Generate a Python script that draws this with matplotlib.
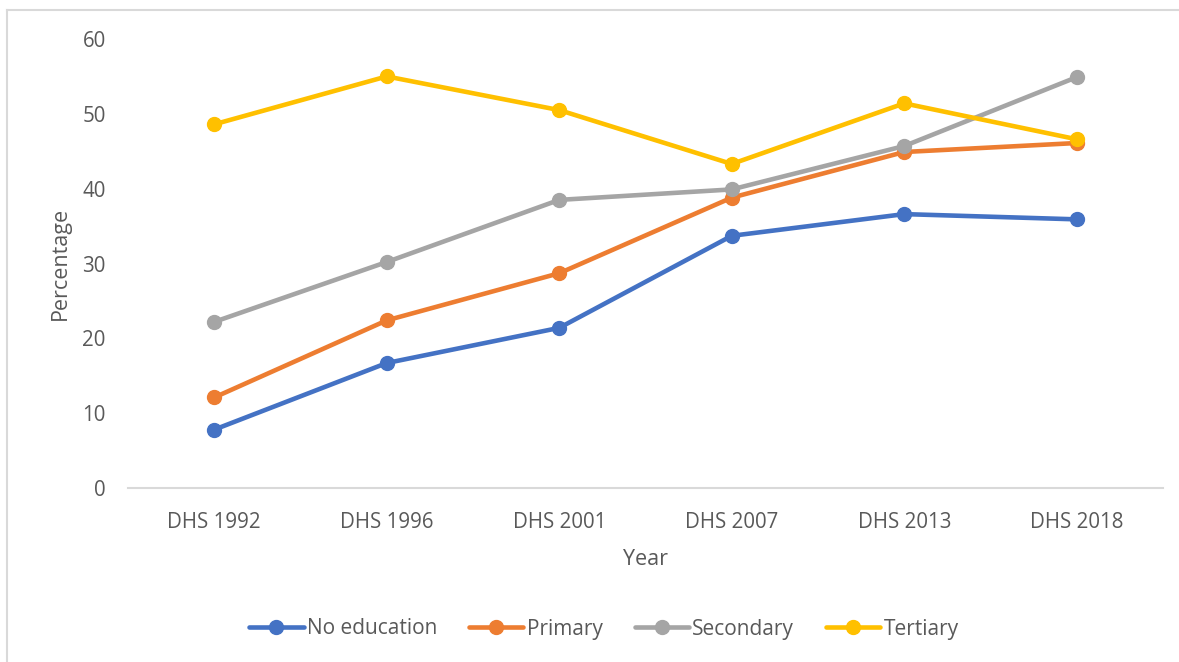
import matplotlib
matplotlib.use("Agg")
import matplotlib.pyplot as plt
from matplotlib.lines import Line2D

# Survey rounds and percentages by education level
years = ["DHS 1992", "DHS 1996", "DHS 2001", "DHS 2007", "DHS 2013", "DHS 2018"]
no_education = [7.8, 16.7, 21.4, 33.7, 36.6, 35.9]
primary = [12.1, 22.4, 28.7, 38.8, 44.9, 46.1]
secondary = [22.2, 30.2, 38.5, 39.9, 45.7, 54.9]
tertiary = [48.6, 55.0, 50.5, 43.3, 51.4, 46.6]

series = [
    ("No education", no_education, "#4472C4"),
    ("Primary", primary, "#ED7D31"),
    ("Secondary", secondary, "#A5A5A5"),
    ("Tertiary", tertiary, "#FFC000"),
]

text_color = "#595959"
plt.rcParams["font.family"] = ["Open Sans", "DejaVu Sans"]

W, H = 1179, 662
fig = plt.figure(figsize=(W / 100, H / 100), dpi=100)

# Chart-area frame edges (top and left)
frame_kw = dict(transform=fig.transFigure, color="#D9D9D9", linewidth=1.5)
fig.lines.append(Line2D([7.5 / W, 1.0], [1 - 10 / H, 1 - 10 / H], **frame_kw))
fig.lines.append(Line2D([7.5 / W, 7.5 / W], [0.0, 1 - 10 / H], **frame_kw))

ax = fig.add_axes([128 / W, 1 - 488 / H, 1035 / W, 449 / H])

x = list(range(len(years)))
for name, vals, color in series:
    ax.plot(x, vals, color=color, linewidth=3.3, marker="o", markersize=10,
            label=name, solid_capstyle="round")

ax.set_xlim(-0.5, len(years) - 0.5)
ax.set_ylim(0, 60)
ax.set_yticks(range(0, 61, 10))
ax.set_xticks(x)
ax.set_xticklabels(years)

for side in ["top", "right", "left"]:
    ax.spines[side].set_visible(False)
ax.spines["bottom"].set_color("#D9D9D9")
ax.spines["bottom"].set_linewidth(1.5)
ax.tick_params(axis="both", length=0, labelsize=14.8, colors=text_color)
ax.tick_params(axis="x", pad=17)
ax.tick_params(axis="y", pad=16)

ax.set_xlabel("Year", fontsize=15.5, color=text_color, labelpad=12)
ax.set_ylabel("Percentage", fontsize=15.5, color=text_color, labelpad=8)

fig.legend(loc="center", bbox_to_anchor=(604 / W, 1 - 629 / H), ncol=4,
           frameon=False, fontsize=15, labelcolor=text_color,
           handlelength=2.6, handletextpad=0.15, columnspacing=1.55)

fig.savefig("out.png", dpi=100)
